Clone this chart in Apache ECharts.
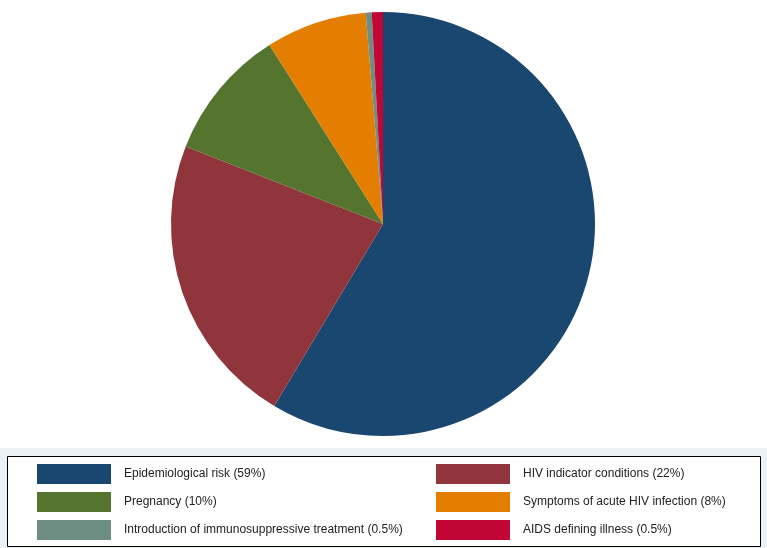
<!DOCTYPE html>
<html>
<head>
<meta charset="utf-8">
<script src="https://cdn.jsdelivr.net/npm/echarts@6/dist/echarts.min.js"></script>
<style>html,body{margin:0;padding:0;background:#fff}#c{width:767px;height:548px}</style>
</head>
<body>
<div id="c"></div>
<script>
const categories = [
  'Epidemiological risk (59%)',
  'HIV indicator conditions (22%)',
  'Pregnancy (10%)',
  'Symptoms of acute HIV infection (8%)',
  'Introduction of immunosuppressive treatment (0.5%)',
  'AIDS defining illness (0.5%)'
];
const values = [58.6, 22.4, 10.05, 7.7, 0.45, 0.85];
const colors = ['#1a476f', '#90353b', '#55752f', '#e37e00', '#6e8e84', '#c10534'];

const chart = echarts.init(document.getElementById('c'), null, {renderer: 'canvas'});
const legendCommon = {
  orient: 'vertical',
  top: 464,
  height: 84,
  padding: 0,
  itemWidth: 74,
  itemHeight: 20,
  itemGap: 8,
  icon: 'rect',
  selectedMode: false,
  textStyle: {fontFamily: 'Liberation Sans, Arial, sans-serif', fontSize: 12, color: '#222', padding: [0, 0, 0, 8]}
};
chart.setOption({
  animation: false,
  color: colors,
  graphic: [
    {type: 'rect', z: -10, shape: {x: 0, y: 448, width: 767, height: 100}, style: {fill: '#eaf2f3'}},
    {type: 'rect', z: -9, shape: {x: 7.5, y: 456.5, width: 753, height: 90}, style: {fill: '#fff', stroke: '#000', lineWidth: 1}}
  ],
  legend: [
    Object.assign({}, legendCommon, {left: 37, data: [categories[0], categories[2], categories[4]]}),
    Object.assign({}, legendCommon, {left: 436, data: [categories[1], categories[3], categories[5]]})
  ],
  series: [{
    type: 'pie',
    center: [383, 224],
    radius: [0, 212],
    startAngle: 90,
    clockwise: true,
    silent: true,
    label: {show: false},
    labelLine: {show: false},
    itemStyle: {borderWidth: 0},
    data: categories.map((n, i) => ({name: n, value: values[i]}))
  }]
});
</script>
</body>
</html>
